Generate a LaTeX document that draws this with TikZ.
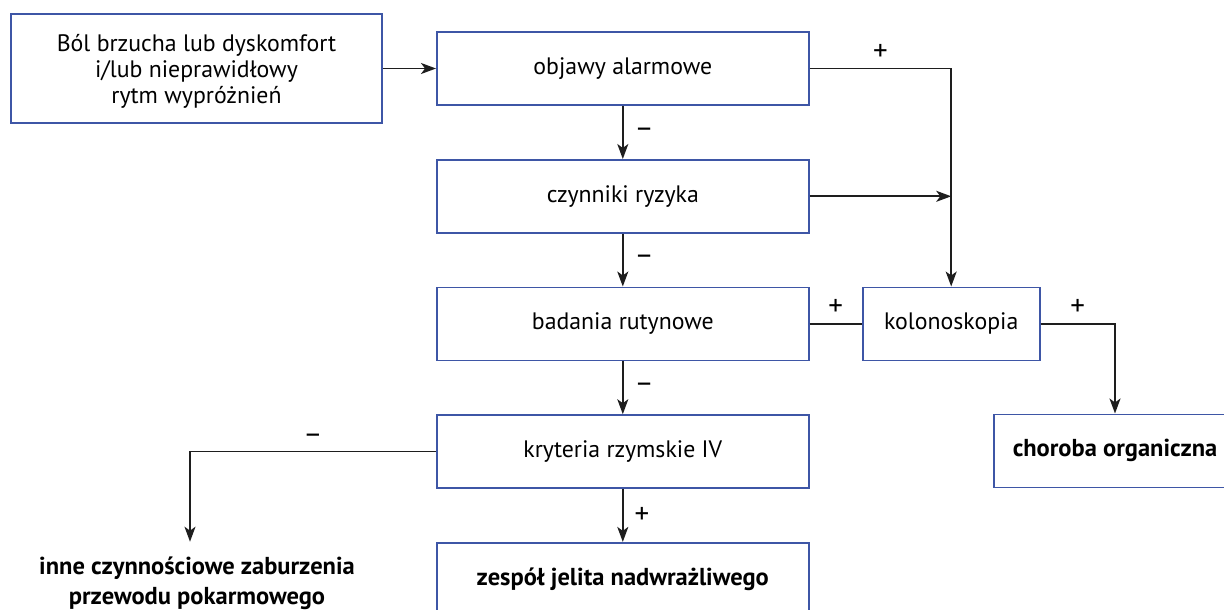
\documentclass[tikz,border=0pt]{standalone}
\usepackage{fontspec}
\setmainfont{PT Sans}
\usetikzlibrary{arrows.meta}
\definecolor{boxblue}{RGB}{62,86,166}
\definecolor{lineblk}{RGB}{30,30,30}
\tikzset{
  box/.style={draw=boxblue, line width=1.6pt, minimum width=372pt, minimum height=73pt, inner sep=0pt, align=center, font=\fontsize{23.8}{26}\selectfont, text=black},
  boldbox/.style={box, font=\fontsize{24.5}{26}\selectfont\bfseries},
  conn/.style={draw=lineblk, line width=1.7pt},
  arr/.style={conn, -{Stealth[length=15pt, width=11pt, inset=4pt]}},
  lbl/.style={font=\fontsize{29}{30}\selectfont, text=black, inner sep=0pt},
}
\begin{document}
\begin{tikzpicture}[x=1pt, y=-1pt]
\useasboundingbox (0,0) rectangle (1224,610);
\clip (0,0) rectangle (1224,610);
\node[box, minimum width=371pt, minimum height=109pt, text depth=-5pt] (bol) at (196.5,68.5) {Ból brzucha lub dyskomfort\\i/lub nieprawidłowy\\rytm wypróżnień};
\node[box] (obj) at (622.8,68.5) {objawy alarmowe};
\node[box] (czy) at (622.8,196.3) {czynniki ryzyka};
\node[box] (bad) at (622.8,323.8) {badania rutynowe};
\node[box] (kry) at (622.8,451.5) {kryteria rzymskie IV};
\node[boldbox] (zes) at (622.8,579.2) {zespół jelita nadwrażliwego};
\node[box, minimum width=177pt] (kol) at (951.2,323.8) {kolonoskopia};
\node[boldbox, minimum width=242pt] (cho) at (1115,450.8) {choroba organiczna};
\node[align=center, inner sep=0pt, font=\fontsize{24.5}{30}\selectfont\bfseries] (inne) at (197,583) {inne czynnościowe zaburzenia\\przewodu pokarmowego};
\coordinate (innetop) at (190,541.7);
\coordinate (join) at (kol.north |- czy.east);

\draw[arr] (bol.east |- obj.west) -- (obj);
\draw[arr] (obj) -- node[lbl, right=11pt]{–} (czy);
\draw[arr] (czy) -- node[lbl, right=11pt]{–} (bad);
\draw[arr] (bad) -- node[lbl, right=11pt]{–} (kry);
\draw[arr] (kry) -- node[lbl, right=11pt]{+} (zes);
\draw[arr] (obj.east) -| node[lbl, pos=0.25, above=7pt]{+} (kol.north);
\draw[arr] (czy.east) -- (join);
\draw[conn] (bad.east) -- node[lbl, above=7pt]{+} (kol.west);
\draw[arr] (kol.east) -| node[lbl, pos=0.25, above=7pt]{+} (cho.north);
\draw[arr] (kry.west) -| node[lbl, pos=0.25, above=7pt]{–} (innetop);
\end{tikzpicture}
\end{document}
